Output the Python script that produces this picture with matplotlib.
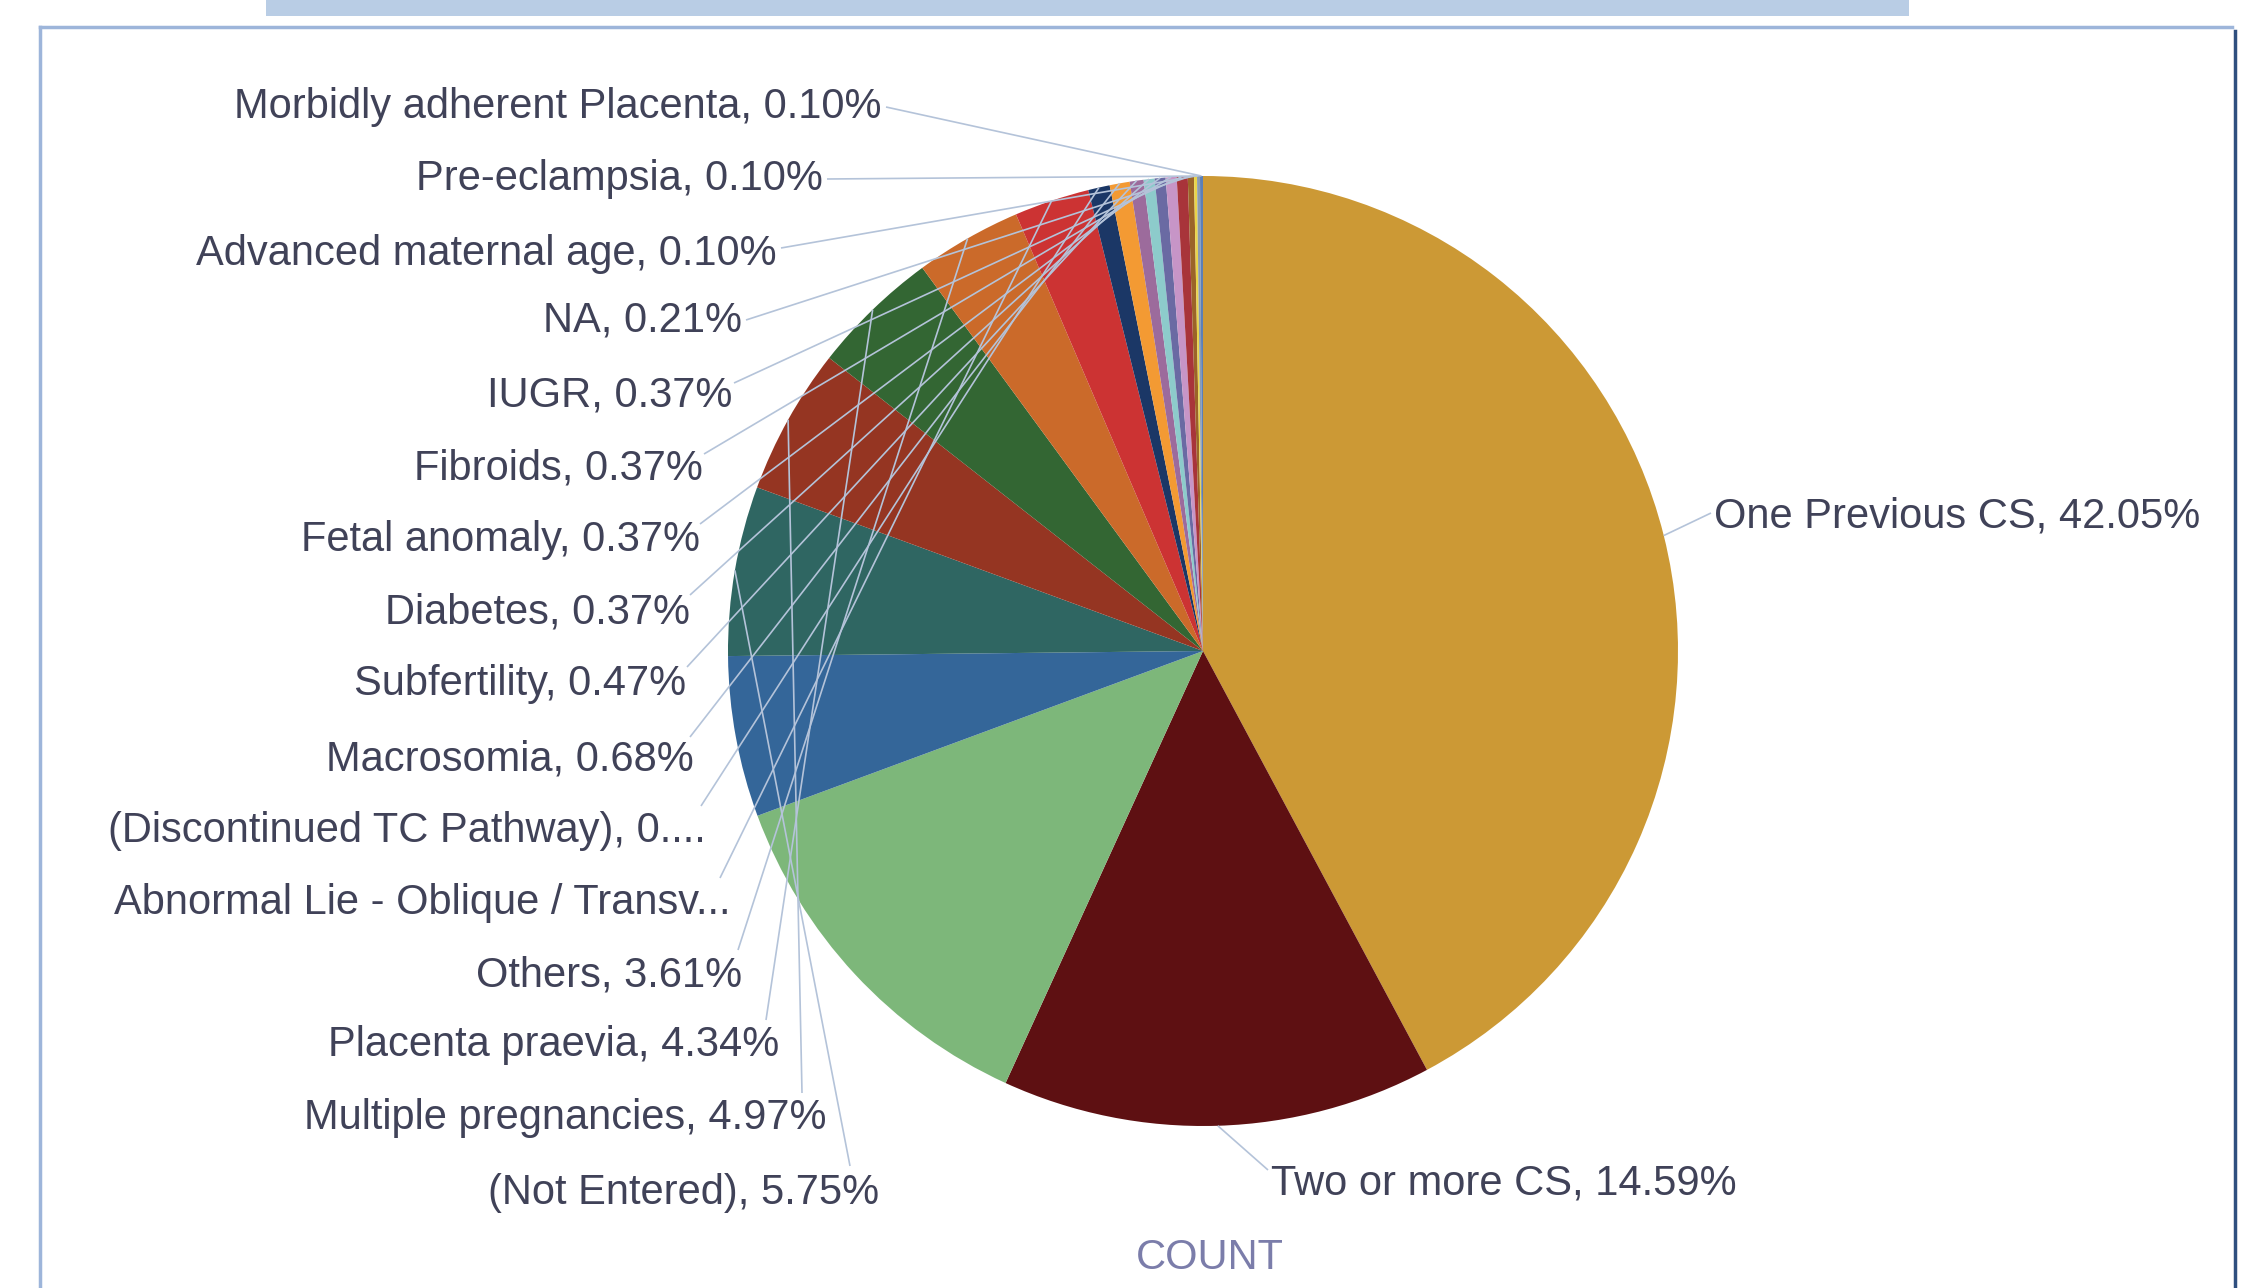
import numpy as np
import matplotlib.pyplot as plt
from matplotlib.patches import Rectangle

# slices in clockwise order starting at 12 o'clock
categories = ['One Previous CS', 'Two or more CS', '(unlabelled 1)', '(unlabelled 2)',
              '(Not Entered)', 'Multiple pregnancies', 'Placenta praevia', 'Others',
              'Abnormal Lie - Oblique / Transverse', '(Discontinued TC Pathway)',
              'Macrosomia', 'Subfertility', 'Diabetes', 'Fetal anomaly', 'Fibroids',
              'IUGR', 'NA', 'Advanced maternal age', 'Pre-eclampsia',
              'Morbidly adherent Placenta']
shares = [42.05, 14.59, 12.5, 5.45, 5.75, 4.97, 4.34, 3.61, 2.55, 0.73,
          0.68, 0.47, 0.37, 0.37, 0.37, 0.37, 0.21, 0.10, 0.10, 0.10]
label_texts = ['One Previous CS, 42.05%', 'Two or more CS, 14.59%', None, None,
               '(Not Entered), 5.75%', 'Multiple pregnancies, 4.97%',
               'Placenta praevia, 4.34%', 'Others, 3.61%',
               'Abnormal Lie - Oblique / Transv...', '(Discontinued TC Pathway), 0....',
               'Macrosomia, 0.68%', 'Subfertility, 0.47%', 'Diabetes, 0.37%',
               'Fetal anomaly, 0.37%', 'Fibroids, 0.37%', 'IUGR, 0.37%', 'NA, 0.21%',
               'Advanced maternal age, 0.10%', 'Pre-eclampsia, 0.10%',
               'Morbidly adherent Placenta, 0.10%']
colors = ['#CC9935', '#5E1012', '#7DB77A', '#346699', '#2F6662', '#953522', '#336633',
          '#CB6A2A', '#CC3333', '#1B3766', '#F39A33', '#9C6B9C', '#8DCBCB', '#6A6AA3',
          '#C795C7', '#A8343A', '#9B6428', '#E9D54A', '#8B9BB0', '#5B7FB8']

W, H = 2259, 1288
TXT = '#404258'
LEAD = '#B4C3D9'

def Y(y):
    # screen pixel row -> data y (y up)
    return H - y

# label layout in pixels: anchor (x, y) and leader start (x, y)
left_anchor = {4: (879, 1193), 5: (826, 1118), 6: (779, 1045), 7: (742, 975),
               8: (730, 903), 9: (706, 831), 10: (694, 759), 11: (686, 684),
               12: (690, 612), 13: (700, 540), 14: (703, 468), 15: (732, 395),
               16: (742, 320), 17: (777, 254), 18: (823, 179), 19: (882, 107)}
lead_start = {4: (850, 1166), 5: (802, 1093), 6: (766, 1020), 7: (738, 950),
              8: (720, 878), 9: (701, 806), 10: (690, 737), 11: (687, 667),
              12: (690, 595), 13: (700, 524), 14: (704, 454), 15: (734, 383),
              16: (746, 320), 17: (781, 248), 18: (827, 179), 19: (886, 107),
              0: (1711, 513), 1: (1268, 1170)}

fig = plt.figure(figsize=(W / 100, H / 100), dpi=100)
ax = fig.add_axes([0, 0, 1, 1])

cx, cy, r = 1203, 651, 475
wedges, _ = ax.pie(shares, colors=colors, startangle=90, counterclock=False,
                   center=(cx, Y(cy)), radius=r, frame=True,
                   wedgeprops=dict(linewidth=0))
ax.set_xlim(0, W)
ax.set_ylim(0, H)
ax.axis('off')

font = dict(family='Liberation Sans', size=30, color=TXT)

for i, w in enumerate(wedges):
    if label_texts[i] is None:
        continue
    mid = np.deg2rad((w.theta1 + w.theta2) / 2)
    ex, ey = cx + r * np.cos(mid), Y(cy) + r * np.sin(mid)
    sx, sy = lead_start[i]
    ax.plot([sx, ex], [Y(sy), ey], color=LEAD, lw=1.2, zorder=5,
            solid_capstyle='butt')
    if i in left_anchor:
        x, y = left_anchor[i]
        ax.text(x, Y(y), label_texts[i], ha='right', va='center', **font)

ax.text(1714, Y(516), label_texts[0], ha='left', va='center', **font)
ax.text(1271, Y(1184), label_texts[1], ha='left', va='center', **font)
ax.text(1210, Y(1258), 'COUNT', ha='center', va='center', family='Liberation Sans',
        size=30, color='#7B7DAA')

# frame and header bar from the page the chart sits on
ax.add_patch(Rectangle((266, Y(16)), 1909 - 266, 16, color='#B9CDE5', lw=0, zorder=0))
ax.plot([40, 2232], [Y(27), Y(27)], color='#9DB5DA', lw=2.5)
ax.plot([40, 40], [Y(27), 0], color='#9DB5DA', lw=2.5)
ax.plot([2235, 2235], [Y(31), 0], color='#2F4F7F', lw=2.5)

fig.savefig('out.png', dpi=100)
